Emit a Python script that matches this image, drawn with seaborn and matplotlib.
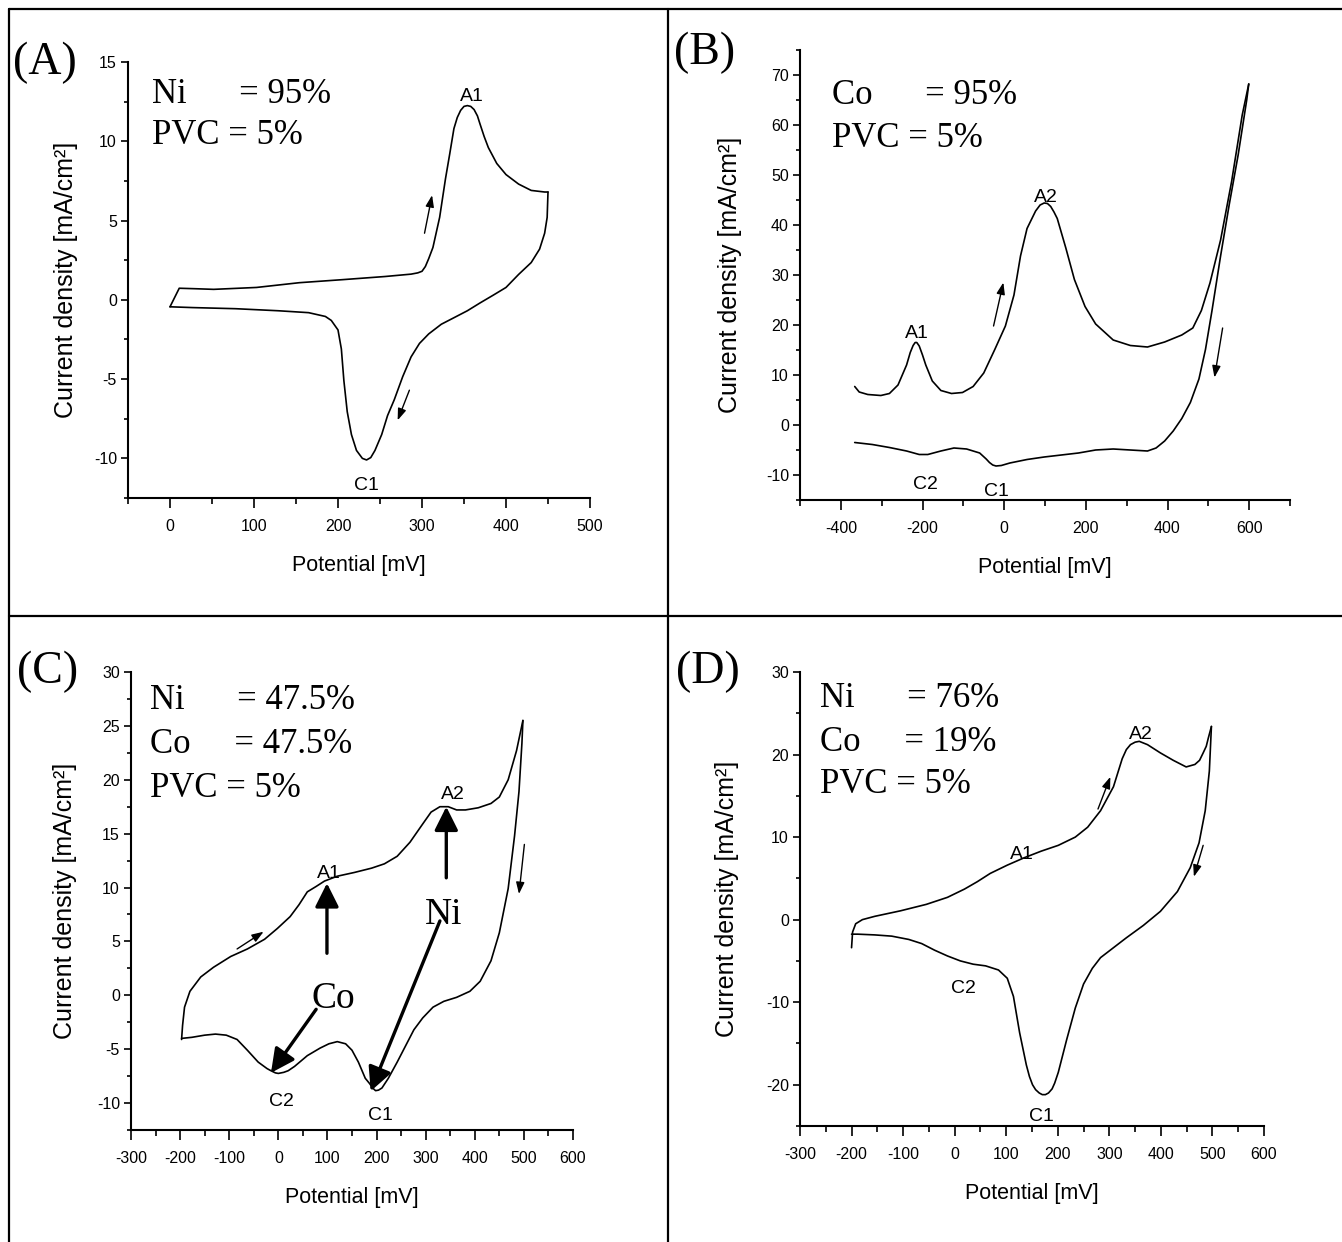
import matplotlib
matplotlib.use("Agg")
import matplotlib.pyplot as plt
import seaborn as sns
from matplotlib.lines import Line2D
from matplotlib.ticker import MultipleLocator

# ---------------- data ----------------
# Panel A : Ni 95 %, PVC 5 %
A_fwd_E = [0, 11, 30, 52, 103, 154, 205, 256, 287, 295, 300, 304, 308, 313, 321, 328, 333,
           338, 342, 346, 350, 354, 358, 362, 366, 369, 374, 379, 389, 400, 415, 430, 446, 450]
A_fwd_j = [-0.44, 0.73, 0.70, 0.66, 0.78, 1.08, 1.27, 1.47, 1.62, 1.70, 1.80, 2.1, 2.6, 3.3,
           5.2, 7.65, 9.2, 10.8, 11.5, 11.95, 12.2, 12.25, 12.2, 12.0, 11.6, 11.1, 10.3,
           9.6, 8.6, 7.9, 7.3, 6.9, 6.8, 6.8]
A_rev_E = [450, 449, 446, 440, 430, 415, 400, 385, 369, 354, 338, 323, 308, 297, 287, 277,
           267, 259, 252, 244, 239, 234, 229, 222, 216, 211, 207, 204, 200, 192, 185, 165,
           129, 78, 27, 0]
A_rev_j = [6.8, 5.2, 4.2, 3.2, 2.35, 1.6, 0.78, 0.3, -0.2, -0.69, -1.13, -1.54, -2.15,
           -2.75, -3.6, -4.85, -6.3, -7.3, -8.5, -9.5, -9.95, -10.1, -10.0, -9.5, -8.5,
           -7.06, -5.1, -3.1, -1.9, -1.3, -1.05, -0.81, -0.69, -0.56, -0.49, -0.44]

# Panel B : Co 95 %, PVC 5 %
B_fwd_E = [-366, -355, -334, -302, -281, -260, -239, -230, -223, -218, -214, -208, -200,
           -192, -176, -155, -129, -102, -76, -50, -23, 3, 24, 40, 56, 77, 88, 98, 106, 114,
           122, 130, 151, 172, 198, 224, 267, 309, 351, 393, 435, 462, 483, 504, 530, 557,
           583, 599]
B_fwd_j = [7.7, 6.6, 6.1, 5.9, 6.3, 8.0, 12.0, 14.5, 15.9, 16.5, 16.5, 15.8, 14.0, 12.0,
           8.8, 6.9, 6.3, 6.5, 7.7, 10.4, 15.1, 19.8, 26.0, 33.8, 39.3, 42.8, 44.0, 44.4,
           44.3, 43.7, 42.6, 41.3, 35.4, 29.1, 23.7, 20.2, 17.0, 15.9, 15.6, 16.6, 18.0,
           19.4, 22.9, 28.4, 37.0, 48.7, 62.0, 68.2]
B_rev_E = [599, 594, 573, 551, 530, 509, 493, 477, 456, 435, 414, 393, 372, 351, 309, 267,
           224, 182, 140, 98, 56, 14, -7, -20, -28, -36, -44, -60, -92, -123, -155, -187,
           -208, -239, -281, -323, -366]
B_rev_j = [68.2, 65.0, 54.0, 44.0, 33.8, 22.9, 15.1, 9.2, 4.5, 1.3, -1.2, -3.2, -4.6, -5.2,
           -5.0, -4.8, -5.0, -5.6, -6.0, -6.4, -6.9, -7.6, -8.1, -8.2, -8.0, -7.5, -6.8,
           -5.6, -4.8, -4.6, -5.2, -5.9, -5.9, -5.2, -4.5, -3.9, -3.5]

# Panel C : Ni 47.5 %, Co 47.5 %, PVC 5 %
C_fwd_E = [-197, -195, -191, -180, -158, -132, -97, -63, -28, -2, 24, 42, 59, 77, 94, 120,
           155, 190, 216, 242, 268, 294, 311, 329, 346, 363, 381, 407, 433, 450, 468, 485, 498]
C_fwd_j = [-4.1, -2.8, -1.1, 0.37, 1.7, 2.6, 3.6, 4.3, 5.2, 6.2, 7.3, 8.4, 9.6, 10.1, 10.6,
           11.05, 11.4, 11.8, 12.2, 12.9, 14.2, 15.9, 17.0, 17.5, 17.5, 17.2, 17.2, 17.4,
           17.8, 18.4, 20.0, 22.7, 25.5]
C_rev_E = [498, 496, 490, 481, 468, 450, 433, 411, 390, 363, 337, 315, 294, 276, 259, 242,
           224, 211, 204, 198, 192, 186, 177, 163, 150, 137, 120, 103, 85, 59, 33, 20, 11,
           0, -6, -15, -23, -41, -63, -84, -106, -128, -150, -176, -197]
C_rev_j = [25.5, 23.4, 18.9, 14.8, 9.9, 5.8, 3.2, 1.3, 0.37, -0.19, -0.56, -1.1, -2.1, -3.2,
           -4.7, -6.2, -7.7, -8.6, -8.8, -8.85, -8.6, -8.2, -7.7, -6.2, -5.1, -4.5, -4.3,
           -4.5, -4.9, -5.6, -6.6, -7.0, -7.15, -7.25, -7.2, -7.0, -6.8, -6.2, -5.1, -4.1,
           -3.7, -3.6, -3.7, -3.9, -4.0]

# Panel D : Ni 76 %, Co 19 %, PVC 5 %
D_fwd_E = [-200, -198, -192, -179, -155, -105, -55, -14, 19, 44, 69, 102, 135, 168, 201,
           234, 258, 283, 308, 325, 333, 341, 350, 358, 366, 374, 399, 424, 449, 466, 475,
           482, 488, 492, 498]
D_fwd_j = [-3.4, -1.5, -0.5, 0.0, 0.4, 1.07, 1.85, 2.7, 3.7, 4.6, 5.6, 6.6, 7.5, 8.3, 9.0,
           10.0, 11.2, 13.2, 16.1, 19.5, 20.6, 21.2, 21.5, 21.6, 21.4, 21.2, 20.2, 19.3,
           18.5, 18.8, 19.3, 20.2, 21.0, 22.0, 23.4]
D_rev_E = [498, 494, 486, 474, 457, 432, 399, 366, 333, 308, 283, 267, 250, 234, 217, 201,
           194, 189, 182, 176, 170, 164, 157, 151, 145, 139, 126, 114, 102, 85, 60, 36, 11,
           -14, -39, -64, -89, -122, -155, -188, -200]
D_rev_j = [23.4, 18.0, 13.2, 9.3, 6.3, 3.4, 1.0, -0.7, -2.2, -3.4, -4.6, -5.9, -7.8, -10.7,
           -14.6, -18.5, -19.8, -20.5, -21.0, -21.2, -21.2, -21.0, -20.6, -20.0, -19.0,
           -17.6, -13.7, -9.3, -7.1, -6.1, -5.6, -5.4, -5.0, -4.4, -3.7, -2.9, -2.4, -2.0,
           -1.85, -1.76, -1.76]

panel_letters = ["(A)", "(B)", "(C)", "(D)"]
compositions = [["Ni      = 95%", "PVC = 5%"],
                ["Co      = 95%", "PVC = 5%"],
                ["Ni      = 47.5%", "Co     = 47.5%", "PVC = 5%"],
                ["Ni      = 76%", "Co     = 19%", "PVC = 5%"]]
x_label = "Potential [mV]"
y_label = "Current density [mA/cm²]"

# ---------------- figure ----------------
sns.set_theme(style="ticks")
plt.rcParams["font.family"] = ["Liberation Sans", "DejaVu Sans"]
plt.rcParams["axes.unicode_minus"] = False
for key in ("text.color", "axes.labelcolor", "xtick.color", "ytick.color",
            "axes.edgecolor"):
    plt.rcParams[key] = "black"

W, H = 1342, 1242
fig = plt.figure(figsize=(W / 100, H / 100), dpi=100)
fig.patch.set_facecolor("white")

SERIF = ["Liberation Serif", "DejaVu Serif"]


def fx(x):
    return x / W


def fy(y):
    return 1 - y / H


def make_axes(l, r, t, b):
    return fig.add_axes([fx(l), fy(b), (r - l) / W, (b - t) / H])


def style(ax, xlim, ylim, xmaj, xmin, ymaj, ymin, w_px, h_px, ylab_off):
    ax.set_xlim(*xlim)
    ax.set_ylim(*ylim)
    ax.xaxis.set_major_locator(MultipleLocator(xmaj))
    ax.xaxis.set_minor_locator(MultipleLocator(xmin))
    ax.yaxis.set_major_locator(MultipleLocator(ymaj))
    ax.yaxis.set_minor_locator(MultipleLocator(ymin))
    sns.despine(ax=ax)
    for s in ("left", "bottom"):
        ax.spines[s].set_linewidth(1.5)
        ax.spines[s].set_color("black")
    ax.tick_params(axis="x", which="major", direction="out", length=7, width=1.2,
                   pad=8, labelsize=11.5, colors="black")
    ax.tick_params(axis="x", which="minor", direction="out", length=4.5, width=1.2,
                   colors="black")
    ax.tick_params(axis="y", which="major", direction="out", length=5, width=1.2,
                   pad=3, labelsize=11.5, colors="black")
    ax.tick_params(axis="y", which="minor", direction="out", length=3, width=1.2,
                   colors="black")
    ax.set_xlabel(x_label, fontsize=15.5, va="center", color="black")
    ax.set_ylabel(y_label, fontsize=18, va="center", color="black")
    ax.xaxis.set_label_coords(0.5, -68 / h_px)
    ax.yaxis.set_label_coords(-ylab_off / w_px, 0.5)
    ax.set_facecolor("white")
    ax.grid(False)


def curve(ax, E, j):
    sns.lineplot(x=E, y=j, sort=False, estimator=None, color="black",
                 linewidth=1.2, ax=ax)


def small_arrow(ax, x0, y0, x1, y1):
    ax.annotate("", xy=(x1, y1), xytext=(x0, y0),
                arrowprops=dict(arrowstyle="-|>,head_length=0.5,head_width=0.18",
                                mutation_scale=14, lw=1.0, color="black",
                                shrinkA=0, shrinkB=0))


def big_arrow(ax, x0, y0, x1, y1):
    ax.annotate("", xy=(x1, y1), xytext=(x0, y0),
                arrowprops=dict(arrowstyle="-|>,head_length=0.6,head_width=0.3",
                                mutation_scale=24, lw=2.4, color="black",
                                shrinkA=0, shrinkB=0))


def peak(ax, x, y, s):
    ax.text(x, y, s, ha="center", va="center", fontsize=14, color="black")


# ---- Panel A ----
axA = make_axes(128, 590, 62, 498)
curve(axA, A_fwd_E, A_fwd_j)
curve(axA, A_rev_E, A_rev_j)
style(axA, (-50, 500), (-12.5, 15), 100, 50, 5, 2.5, 462, 436, 62)
small_arrow(axA, 303, 4.2, 312, 6.6)
small_arrow(axA, 285, -5.7, 271, -7.6)
peak(axA, 359, 12.8, "A1")
peak(axA, 234, -11.7, "C1")

# ---- Panel B ----
axB = make_axes(800, 1290, 50, 500)
curve(axB, B_fwd_E, B_fwd_j)
curve(axB, B_rev_E, B_rev_j)
style(axB, (-500, 700), (-15, 75), 200, 100, 10, 5, 490, 450, 70)
small_arrow(axB, -26, 19.8, -2, 28.5)
small_arrow(axB, 535, 19.4, 515, 9.5)
peak(axB, -213, 18.4, "A1")
peak(axB, 101, 45.6, "A2")
peak(axB, -192, -11.9, "C2")
peak(axB, -18, -13.2, "C1")

# ---- Panel C ----
axC = make_axes(131, 573, 672, 1130)
curve(axC, C_fwd_E, C_fwd_j)
curve(axC, C_rev_E, C_rev_j)
style(axC, (-300, 600), (-12.5, 30), 100, 50, 5, 2.5, 442, 458, 66)
small_arrow(axC, -84, 4.3, -30, 5.9)
small_arrow(axC, 501, 14.0, 490, 9.4)
big_arrow(axC, 99, 3.9, 99, 10.4)
big_arrow(axC, 342, 10.9, 342, 17.5)
big_arrow(axC, 77, -1.3, -15, -7.2)
big_arrow(axC, 329, 6.9, 188, -8.9)
axC.text(111, -0.3, "Co", ha="center", va="center", fontsize=27, family=SERIF)
axC.text(337, 7.5, "Ni", ha="center", va="center", fontsize=27, family=SERIF)
peak(axC, 103, 11.3, "A1")
peak(axC, 355, 18.6, "A2")
peak(axC, 7, -9.9, "C2")
peak(axC, 207, -11.2, "C1")

# ---- Panel D ----
axD = make_axes(800, 1264, 672, 1126)
curve(axD, D_fwd_E, D_fwd_j)
curve(axD, D_rev_E, D_rev_j)
style(axD, (-300, 600), (-25, 30), 100, 50, 10, 5, 464, 454, 73)
small_arrow(axD, 278, 13.4, 302, 17.3)
small_arrow(axD, 482, 9.0, 464, 5.2)
peak(axD, 362, 22.4, "A2")
peak(axD, 131, 7.9, "A1")
peak(axD, 17, -8.3, "C2")
peak(axD, 168, -23.9, "C1")

# ---- panel letters and compositions (figure pixel positions) ----
letter_pos = [(13, 74), (674, 64), (17, 683), (676, 683)]
for (x, y), s in zip(letter_pos, panel_letters):
    fig.text(fx(x), fy(y), s, fontsize=33, family=SERIF, va="baseline", ha="left",
             color="black")

comp_pos = [(152, [103, 144]), (832, [104, 147]),
            (150, [709, 753, 797]), (820, [707, 751, 793])]
for (x, ys), lines in zip(comp_pos, compositions):
    for y, s in zip(ys, lines):
        fig.text(fx(x), fy(y), s, fontsize=25, family=SERIF, va="baseline", ha="left",
                 color="black")

# ---- frame lines ----
lw = 1.6
fig.add_artist(Line2D([fx(9), 1], [fy(9), fy(9)], color="black", lw=lw))
fig.add_artist(Line2D([fx(9), 1], [fy(616), fy(616)], color="black", lw=lw))
fig.add_artist(Line2D([fx(9), fx(9)], [fy(9), 0], color="black", lw=lw))
fig.add_artist(Line2D([fx(668), fx(668)], [fy(9), 0], color="black", lw=lw))

fig.savefig("out.png", dpi=100, facecolor="white")
